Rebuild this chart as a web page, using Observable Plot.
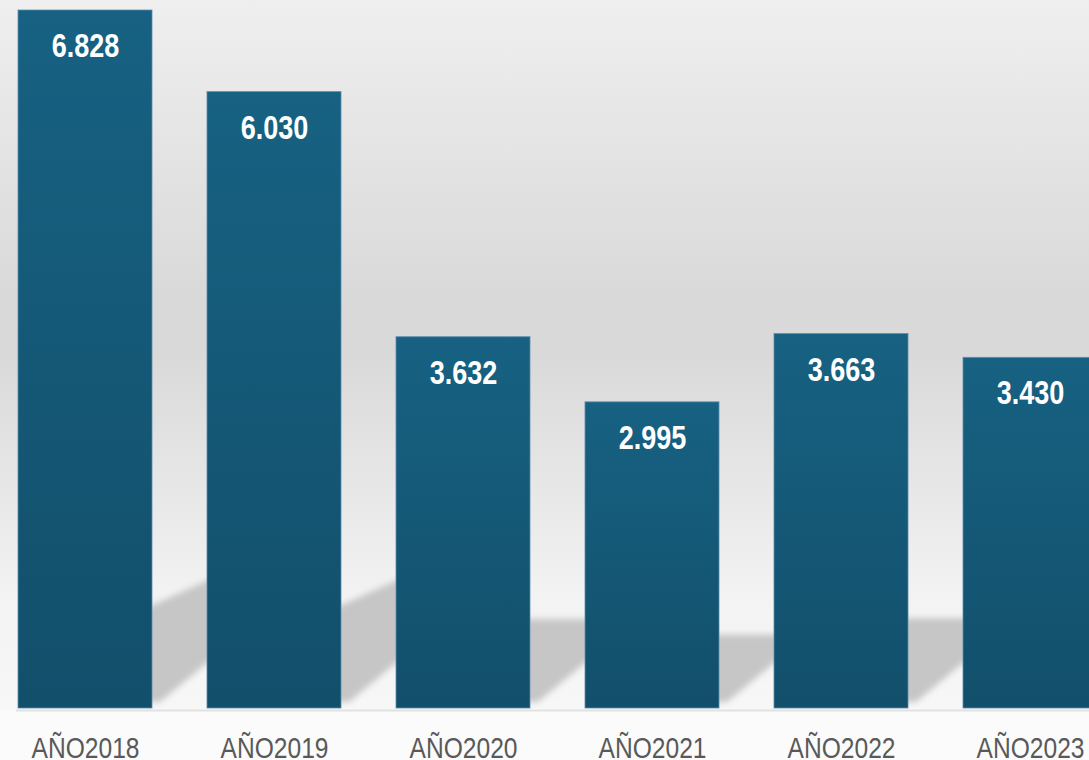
<!DOCTYPE html>
<html><head><meta charset="utf-8">
<script src="https://cdn.jsdelivr.net/npm/d3@7"></script>
<script src="https://cdn.jsdelivr.net/npm/@observablehq/plot@0.6"></script>
<style>
html,body{margin:0;padding:0;overflow:hidden;background:#fbfbfb;}
#chart svg{display:block;}
</style></head><body><div id="chart"></div>
<script>
const categories = ["AÑO2018","AÑO2019","AÑO2020","AÑO2021","AÑO2022","AÑO2023"];
const values = [6828, 6030, 3632, 2995, 3663, 3430];
const valueLabels = ["6.828","6.030","3.632","2.995","3.663","3.430"];
const data = categories.map((c, i) => ({cat: c, value: values[i], label: valueLabels[i]}));

const narrow = "'Liberation Sans Narrow','Arial Narrow','Liberation Sans',Arial,sans-serif";

function defsMark() {
  const defs = d3.create("svg:defs");
  const lg = defs.append("linearGradient").attr("id", "barGrad")
    .attr("x1", 0).attr("y1", 0).attr("x2", 0).attr("y2", 1);
  lg.append("stop").attr("offset", "0%").attr("stop-color", "#176182");
  lg.append("stop").attr("offset", "100%").attr("stop-color", "#124f6b");
  const f = defs.append("filter").attr("id", "shadowBlur")
    .attr("x", "-30%").attr("y", "-30%").attr("width", "160%").attr("height", "160%");
  f.append("feGaussianBlur").attr("stdDeviation", 3);
  return defs.node();
}

function shadows(index, scales) {
  const x = scales.x, y = scales.y;
  const bw = typeof x.bandwidth === "function" ? x.bandwidth() : (scales.scales && scales.scales.x ? scales.scales.x.bandwidth : 134);
  const base = y(0);
  const g = d3.create("svg:g").attr("filter", "url(#shadowBlur)");
  for (let i = 0; i < data.length - 1; i++) {
    const xR = x(data[i].cat) + bw, xN = x(data[i + 1].cat);
    const raw = data[i].value * 0.0245;
    const h = Math.min(raw, 100);
    const slant = raw > 100 ? 30 : 0;
    const pts = [[xR - 6, base - h], [xN + 6, base - h - slant], [xN + 6, base - 50],
                 [xR + 8, base - 6], [xR - 6, base - 6]];
    g.append("polygon").attr("points", pts.map(p => p.join(",")).join(" ")).attr("fill", "#c6c6c6");
  }
  return g.node();
}

const chart = Plot.plot({
  width: 1110, height: 760,
  marginTop: 10, marginBottom: 52, marginLeft: 16, marginRight: 11,
  style: {
    background: "linear-gradient(to bottom, #efefef 0px, #d9d9d9 300px, #d9d9d9 350px, #e0e0e0 420px, #f3f3f3 600px, #f7f7f7 708px, #fbfbfb 712px, #fbfbfb 760px)",
    overflow: "visible",
    maxWidth: "none"
  },
  x: {domain: categories, range: [16, 1099], paddingInner: 0.29, paddingOuter: 0, axis: null},
  y: {domain: [0, d3.max(values)], axis: null},
  marks: [
    defsMark,
    shadows,
    Plot.ruleY([0], {stroke: "#e2e2e2", strokeWidth: 2, dy: 2}),
    Plot.barY(data, {x: "cat", y: "value", fill: "url(#barGrad)", stroke: "#5b8cab", strokeWidth: 1, strokeOpacity: 0.8}),
    Plot.text(data, {x: "cat", y: "value", text: "label", dy: 36, lineAnchor: "middle",
      fill: "white", fontSize: 33, fontWeight: "bold", fontFamily: narrow}),
    Plot.text(data, {x: "cat", text: "cat", frameAnchor: "bottom", lineAnchor: "top", dy: 28,
      fill: "#595959", fontSize: 30, fontFamily: narrow})
  ]
});
chart.style.width = "1110px";
chart.style.height = "760px";
document.getElementById("chart").appendChild(chart);
// emulate a narrow face (Arial Narrow ≈ 82% width) for all text
chart.querySelectorAll("text").forEach(t => {
  const w = t.getComputedTextLength();
  if (w > 0) {
    t.setAttribute("textLength", (w * 0.82).toFixed(1));
    t.setAttribute("lengthAdjust", "spacingAndGlyphs");
  }
});
</script>
</body></html>
